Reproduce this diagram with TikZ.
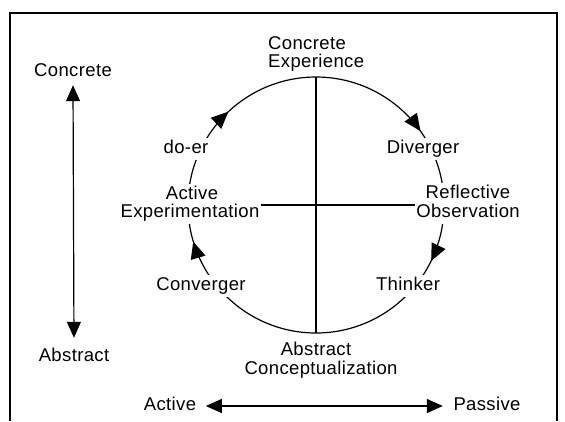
\documentclass[tikz,border=0pt]{standalone}
\usepackage{fontspec}
\newfontfamily\lbf{Liberation Sans}[LetterSpace=2]
\usetikzlibrary{arrows.meta,decorations.markings}
\begin{document}
\begin{tikzpicture}[x=1pt,y=1pt,
  lbl/.style={font=\lbf\fontsize{18.5}{18}\selectfont, fill=white, inner sep=1.5pt,
              text height=13.5pt, text depth=5.5pt, anchor=base},
  axis/.style={line width=1.2pt},
  frame/.style={line width=1.6pt}]
\useasboundingbox (0,-421) rectangle (565,0);
% frame
\draw[frame] (10,-421) -- (10,-13) -- (557,-13) -- (557,-421);
% cycle
\coordinate (cyc) at (316,-205);
\coordinate (ctop) at (316,-77);
\coordinate (cbot) at (316,-333);
\draw[axis, decoration={markings,
    mark=at position 0.152 with {\arrow{Triangle[length=17pt,width=15pt]}},
    mark=at position 0.322 with {\arrow{Triangle[length=17pt,width=15pt]}},
    mark=at position 0.704 with {\arrow{Triangle[length=17pt,width=15pt]}},
    mark=at position 0.880 with {\arrow{Triangle[length=17pt,width=15pt]}}},
  postaction=decorate] (ctop) arc[start angle=90, delta angle=-360, radius=128];
\draw[axis] (ctop) -- (cbot);
\coordinate (hl) at (261,-205);
\coordinate (hr) at (420,-205);
\draw[axis] (hl) -- (hr);
% labels on the cycle
\node[lbl, anchor=base west] (ce1) at (266.5,-49) {Concrete};
\node[lbl, anchor=base west] (ce2) at (266.5,-67) {Experience};
\node[lbl] (doer) at (186,-153) {do-er};
\node[lbl] (div) at (423,-153) {Diverger};
\node[lbl] (ae1) at (192,-199) {Active};
\node[lbl] (ae2) at (190,-217) {Experimentation};
\node[lbl] (ro1) at (468,-198) {Reflective};
\node[lbl] (ro2) at (468,-217) {Observation};
\node[lbl] (con) at (201,-290) {Converger};
\node[lbl] (thk) at (408,-290) {Thinker};
\node[lbl] (ac1) at (316,-355) {Abstract};
\node[lbl] (ac2) at (321,-374) {Conceptualization};
% axes labels
\node[lbl] (lc) at (73,-76) {Concrete};
\node[lbl] (la) at (74,-361) {Abstract};
\node[lbl] (ba) at (170,-410) {Active};
\node[lbl] (bp) at (487,-410) {Passive};
\draw[axis, {Triangle[length=16pt,width=14pt]}-{Triangle[length=16pt,width=14pt]},
  shorten <=2pt, shorten >=8pt] (lc.south) -- (la.north);
\draw[axis, {Triangle[length=16pt,width=14pt]}-{Triangle[length=16pt,width=14pt]},
  shorten <=8pt, shorten >=9pt] (ba.east) -- (bp.west);
\end{tikzpicture}
\end{document}
